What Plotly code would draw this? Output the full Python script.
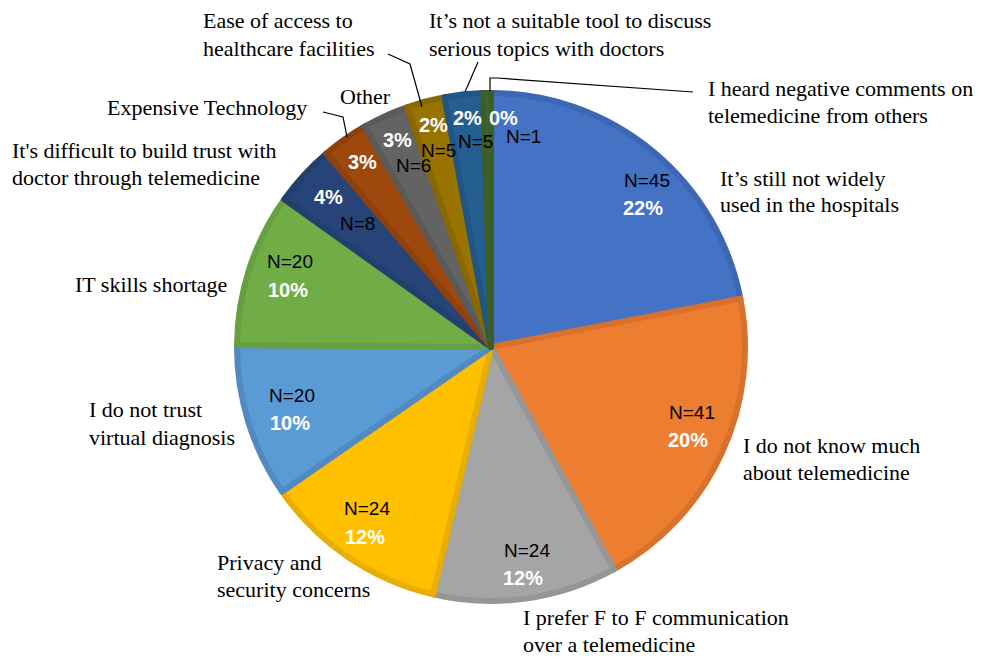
import plotly.graph_objects as go

# ---------------- data ----------------
categories = [
    "It\u2019s still not widely<br>used in the hospitals",
    "I do not know much<br>about telemedicine",
    "I prefer F to F communication<br>over a telemedicine",
    "Privacy and<br>security concerns",
    "I do not trust<br>virtual diagnosis",
    "IT skills shortage",
    "It's difficult to build trust with<br>doctor through telemedicine",
    "Expensive Technology",
    "Other",
    "Ease of access to<br>healthcare facilities",
    "It\u2019s not a suitable tool to discuss<br>serious topics with doctors",
    "I heard negative comments on<br>telemedicine from others",
]
counts = [45, 41, 24, 24, 20, 20, 8, 6, 6, 5, 5, 1]
show_n = [True, True, True, True, True, True, True, False, True, True, True, True]

# ---------------- style ----------------
fill_colors = ["#4472C4", "#ED7D31", "#A5A5A5", "#FFC000", "#5B9BD5", "#70AD47",
               "#264478", "#9E480E", "#636363", "#997300", "#255E91", "#43682B"]
line_colors = ["#3E67B3", "#D8712C", "#969696", "#E8AF00", "#5189C0", "#66A040",
               "#22406F", "#8E410D", "#5A5A5A", "#8A6800", "#215584", "#3C5E27"]

W, H = 982, 658
CX, CY, R = 491, 347, 254
LINE_GAP = 27


def px(x, y):
    return x / W, 1 - y / H


# external label anchors (left x, y of first line centre) in pixels
ext_pos = [(718, 178), (741, 445), (521, 617), (215, 562), (87, 410), (73, 285),
           (10, 150), (105, 107), (338, 96), (201, 21), (427, 21), (706, 89)]
# inside labels: (N x, N y, % x, % y) in pixels
in_pos = [(647, 180, 643, 208), (692, 412, 688, 440), (527, 550, 523, 578),
          (367, 508, 365, 537), (292, 395, 290, 423), (290, 261, 288, 290),
          (357, 223, 328, 197), (None, None, 362, 162), (413, 165, 397, 140),
          (438, 150, 433, 125), (475, 142, 467, 118), (523, 137, 503, 118)]
# leader line paths (pixels)
leaders = [
    [(323, 112), (343, 117), (347, 137)],
    [(388, 54), (410, 64), (422, 107)],
    [(478, 62), (465, 92)],
    [(490, 91), (490, 78), (497, 78), (693, 92)],
]

fig = go.Figure()
x0, y1 = px(CX - R, CY - R)
x1, y0 = px(CX + R, CY + R)
fig.add_trace(go.Pie(
    labels=[c.replace("<br>", " ") for c in categories],
    values=counts,
    sort=False,
    direction="clockwise",
    rotation=0,
    textinfo="none",
    hoverinfo="label+value+percent",
    marker=dict(colors=fill_colors, line=dict(color=line_colors, width=6)),
    domain=dict(x=[x0, x1], y=[y0, y1]),
    showlegend=False,
))

total = sum(counts)
annotations = []
serif = "Liberation Serif"
sans = "Liberation Sans"
for i, cat in enumerate(categories):
    lx, ly = ext_pos[i]
    for j, line in enumerate(cat.split("<br>")):
        yy = ly + j * LINE_GAP
        ex, ey = px(lx, yy)
        annotations.append(dict(x=ex, y=ey, xref="paper", yref="paper", text=line,
                                showarrow=False, xanchor="left", yanchor="middle",
                                align="left",
                                font=dict(family=serif, size=22, color="black")))
    nx, ny, qx, qy = in_pos[i]
    pct = round(100 * counts[i] / total)
    if show_n[i] and nx is not None:
        ax, ay = px(nx, ny)
        annotations.append(dict(x=ax, y=ay, xref="paper", yref="paper",
                                text=f"N={counts[i]}", showarrow=False,
                                xanchor="center", yanchor="middle",
                                font=dict(family=sans, size=19, color="black")))
    ax, ay = px(qx, qy)
    annotations.append(dict(x=ax, y=ay, xref="paper", yref="paper",
                            text=f"<b>{pct}%</b>", showarrow=False,
                            xanchor="center", yanchor="middle",
                            font=dict(family=sans, size=20, color="white")))

shapes = []
for pts in leaders:
    coords = [px(x, y) for x, y in pts]
    path = "M " + " L ".join(f"{a:.5f},{b:.5f}" for a, b in coords)
    shapes.append(dict(type="path", path=path, xref="paper", yref="paper",
                       line=dict(color="black", width=1.2)))

fig.update_layout(
    width=W, height=H,
    margin=dict(l=0, r=0, t=0, b=0),
    paper_bgcolor="white", plot_bgcolor="white",
    annotations=annotations, shapes=shapes,
)

fig.write_html("out.html")
